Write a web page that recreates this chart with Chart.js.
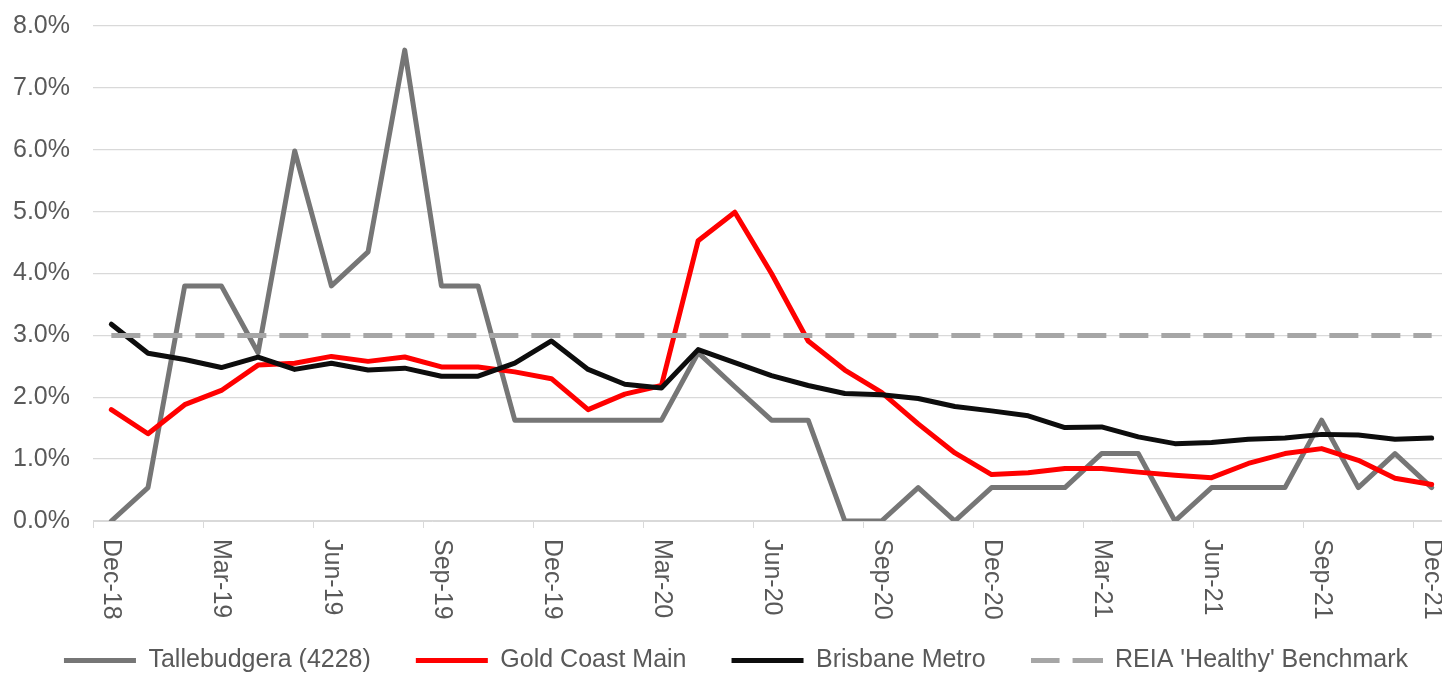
<!DOCTYPE html>
<html>
<head>
<meta charset="utf-8">
<script src="https://cdn.jsdelivr.net/npm/chart.js@4.4.1/dist/chart.umd.min.js"></script>
<style>
    html, body { margin: 0; padding: 0; background: #ffffff; overflow: hidden; }
    /* the original plot runs a few pixels past the right edge, so the canvas is a bit wider than the view */
    #wrap { width: 1442px; height: 673px; overflow: hidden; }
</style>
</head>
<body>
<div id="wrap"><canvas id="chart" width="1450" height="673"></canvas></div>
<script>
// monthly data, Dec-18 .. Dec-21
const months = [
    "Dec-18", "Jan-19", "Feb-19", "Mar-19", "Apr-19", "May-19", "Jun-19", "Jul-19", "Aug-19", "Sep-19", "Oct-19", "Nov-19",
    "Dec-19", "Jan-20", "Feb-20", "Mar-20", "Apr-20", "May-20", "Jun-20", "Jul-20", "Aug-20", "Sep-20", "Oct-20", "Nov-20",
    "Dec-20", "Jan-21", "Feb-21", "Mar-21", "Apr-21", "May-21", "Jun-21", "Jul-21", "Aug-21", "Sep-21", "Oct-21", "Nov-21",
    "Dec-21"
];

const tallebudgera = [
    0.00, 0.54, 3.80, 3.80, 2.72, 5.98, 3.80, 4.35, 7.61, 3.80, 3.80, 1.63,
    1.63, 1.63, 1.63, 1.63, 2.72, 2.17, 1.63, 1.63, 0.00, 0.00, 0.54, 0.00,
    0.54, 0.54, 0.54, 1.09, 1.09, 0.00, 0.54, 0.54, 0.54, 1.63, 0.54, 1.09,
    0.54
];

const goldCoast = [
    1.80, 1.41, 1.88, 2.11, 2.52, 2.55, 2.66, 2.58, 2.65, 2.49, 2.49, 2.41,
    2.30, 1.80, 2.05, 2.19, 4.53, 4.99, 4.00, 2.91, 2.44, 2.08, 1.57, 1.10,
    0.75, 0.78, 0.85, 0.85, 0.79, 0.74, 0.70, 0.93, 1.09, 1.17, 0.98, 0.69,
    0.59
];

const brisbane = [
    3.18, 2.71, 2.61, 2.48, 2.65, 2.45, 2.55, 2.44, 2.47, 2.34, 2.34, 2.55,
    2.91, 2.45, 2.21, 2.15, 2.77, 2.56, 2.35, 2.19, 2.06, 2.04, 1.98, 1.85,
    1.78, 1.70, 1.51, 1.52, 1.36, 1.25, 1.27, 1.32, 1.34, 1.40, 1.39, 1.32,
    1.34
];

const benchmark = [
    3.0, 3.0, 3.0, 3.0, 3.0, 3.0, 3.0, 3.0, 3.0, 3.0, 3.0, 3.0,
    3.0, 3.0, 3.0, 3.0, 3.0, 3.0, 3.0, 3.0, 3.0, 3.0, 3.0, 3.0,
    3.0, 3.0, 3.0, 3.0, 3.0, 3.0, 3.0, 3.0, 3.0, 3.0, 3.0, 3.0,
    3.0
];

const yTicks = [0, 1, 2, 3, 4, 5, 6, 7, 8];

const FONT = "'Liberation Sans', Arial, sans-serif";
const TEXT = "#595959";
const GRID = "#D9D9D9";
const BENCH = "#A6A6A6";

// legend marker for the dashed series (the built-in 'line' marker ignores the dash)
const dashMarker = document.createElement("canvas");
dashMarker.width = 72;
dashMarker.height = 5;
(function () {
    const c = dashMarker.getContext("2d");
    c.fillStyle = BENCH;
    c.fillRect(0, 0, 29, 5);
    c.fillRect(42, 0, 30, 5);
})();

// x labels in the original run top-to-bottom, which Chart.js can't rotate to,
// so they are drawn here from the x scale positions
const verticalLabels = {
    id: "verticalLabels",
    afterLayout(chart) {
        // nudge the legend a little to the right, like the original
        if (chart.legend) {
            chart.legend.left += 11;
            chart.legend.right += 11;
        }
    },
    afterDraw(chart) {
        const ctx = chart.ctx;
        const x = chart.scales.x;
        ctx.save();
        ctx.font = "25px " + FONT;
        ctx.fillStyle = TEXT;
        ctx.textAlign = "left";
        ctx.textBaseline = "middle";
        for (let i = 0; i < months.length; i += 3) {
            ctx.save();
            ctx.translate(x.getPixelForValue(i), chart.chartArea.bottom + 18);
            ctx.rotate(Math.PI / 2);
            ctx.fillText(months[i], 0, 0);
            ctx.restore();
        }
        ctx.restore();
    }
};

function line(label, data, color, order) {
    return {
        label: label,
        data: data,
        borderColor: color,
        backgroundColor: color,
        borderWidth: 5,
        borderCapStyle: "round",
        borderJoinStyle: "round",
        pointRadius: 0,
        tension: 0,
        order: order
    };
}

const dashed = line("REIA 'Healthy' Benchmark", benchmark, BENCH, 0);
dashed.borderDash = [29, 13];
dashed.borderCapStyle = "butt";

new Chart(document.getElementById("chart").getContext("2d"), {
    type: "line",
    data: {
        labels: months,
        datasets: [
            line("Tallebudgera (4228)", tallebudgera, "#767676", 3),
            line("Gold Coast Main", goldCoast, "#FF0000", 2),
            line("Brisbane Metro", brisbane, "#0D0D0D", 1),
            dashed
        ]
    },
    options: {
        responsive: false,
        animation: false,
        layout: { padding: { top: 26, left: 0, right: 0, bottom: -10 } },
        plugins: {
            tooltip: { enabled: false },
            legend: {
                position: "bottom",
                labels: {
                    font: { family: FONT, size: 25 },
                    color: TEXT,
                    usePointStyle: true,
                    pointStyle: "line",
                    pointStyleWidth: 72,
                    padding: 45,
                    generateLabels: (chart) => {
                        const items = Chart.defaults.plugins.legend.labels.generateLabels(chart);
                        items.forEach((it) => {
                            if (it.datasetIndex === 3) it.pointStyle = dashMarker;
                        });
                        return items;
                    },
                    sort: (a, b) => a.datasetIndex - b.datasetIndex
                }
            }
        },
        scales: {
            x: {
                offset: true,
                ticks: { display: false },
                grid: {
                    offset: true,
                    drawOnChartArea: false,
                    tickLength: 7,
                    color: (c) => (c.index % 3 === 0 ? GRID : "rgba(0,0,0,0)")
                },
                border: { color: GRID, width: 1 },
                afterFit: (s) => { s.height = 82; }
            },
            y: {
                min: 0,
                max: 8,
                afterBuildTicks: (s) => { s.ticks = yTicks.map((v) => ({ value: v })); },
                afterFit: (s) => { s.width = 93; },
                ticks: {
                    padding: 0,
                    color: TEXT,
                    font: { family: FONT, size: 25 },
                    callback: (v) => v.toFixed(1) + "%"
                },
                // invisible tick marks keep the gap between labels and plot
                grid: { color: GRID, lineWidth: 1.3, tickLength: 23, tickColor: "rgba(0,0,0,0)" },
                border: { display: false }
            }
        }
    },
    plugins: [verticalLabels]
});
</script>
</body>
</html>
